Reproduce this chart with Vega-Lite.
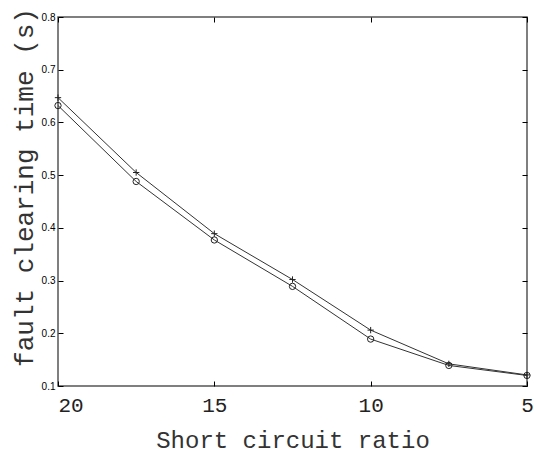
{
  "$schema": "https://vega.github.io/schema/vega-lite/v6.json",
  "autosize": "none",
  "width": 469,
  "height": 369,
  "padding": {"left": 58, "top": 17, "right": 7, "bottom": 70},
  "background": "white",
  "config": {
    "view": {"stroke": "#555", "strokeWidth": 1.5},
    "axis": {"grid": false, "domain": false, "tickColor": "black", "tickWidth": 1}
  },
  "data": {
    "values": [
      {"ratio": 20, "time": 0.647, "series": "plus"},
      {"ratio": 17.5, "time": 0.505, "series": "plus"},
      {"ratio": 15, "time": 0.389, "series": "plus"},
      {"ratio": 12.5, "time": 0.302, "series": "plus"},
      {"ratio": 10, "time": 0.206, "series": "plus"},
      {"ratio": 7.5, "time": 0.142, "series": "plus"},
      {"ratio": 5, "time": 0.121, "series": "plus"},
      {"ratio": 20, "time": 0.632, "series": "circle"},
      {"ratio": 17.5, "time": 0.488, "series": "circle"},
      {"ratio": 15, "time": 0.377, "series": "circle"},
      {"ratio": 12.5, "time": 0.289, "series": "circle"},
      {"ratio": 10, "time": 0.189, "series": "circle"},
      {"ratio": 7.5, "time": 0.139, "series": "circle"},
      {"ratio": 5, "time": 0.12, "series": "circle"}
    ]
  },
  "layer": [
    {
      "mark": {"type": "line", "color": "#333", "strokeWidth": 1},
      "encoding": {
        "x": {
          "field": "ratio", "type": "quantitative",
          "scale": {"domain": [5, 20], "reverse": true, "nice": false, "zero": false},
          "axis": {
            "orient": "bottom", "values": [20, 15, 10, 5], "tickSize": -5,
            "labelPadding": 13, "labelFont": "Liberation Mono", "labelFontSize": 21,
            "labelColor": "#222",
            "labelAlign": {"condition": {"test": "datum.value == 20", "value": "left"}, "value": "center"},
            "title": "Short circuit ratio", "titleFont": "Liberation Mono",
            "titleFontSize": 24, "titleFontWeight": "normal", "titleColor": "#333",
            "titlePadding": 13
          }
        },
        "y": {
          "field": "time", "type": "quantitative",
          "scale": {"domain": [0.1, 0.8], "nice": false, "zero": false},
          "axis": {
            "orient": "left", "values": [0.1, 0.2, 0.3, 0.4, 0.5, 0.6, 0.7, 0.8],
            "format": ".1f", "tickSize": -5, "labelPadding": 8,
            "labelFont": "Liberation Sans", "labelFontSize": 10, "labelColor": "black",
            "title": "fault clearing time (s)", "titleFont": "Liberation Mono",
            "titleFontSize": 26, "titleFontWeight": "normal", "titleColor": "#333",
            "titlePadding": 4, "titleY": 170
          }
        },
        "detail": {"field": "series"}
      }
    },
    {
      "mark": {"type": "point", "filled": false, "strokeWidth": 1, "color": "#222", "opacity": 1},
      "encoding": {
        "x": {
          "field": "ratio", "type": "quantitative",
          "axis": {"orient": "top", "values": [20, 15, 10, 5], "tickSize": -5, "labels": false, "title": null}
        },
        "y": {
          "field": "time", "type": "quantitative",
          "axis": {"orient": "right", "values": [0.1, 0.2, 0.3, 0.4, 0.5, 0.6, 0.7, 0.8], "tickSize": -5, "labels": false, "title": null}
        },
        "shape": {
          "field": "series", "type": "nominal",
          "scale": {"domain": ["plus", "circle"], "range": ["M-1,0L1,0M0,-1L0,1", "circle"]},
          "legend": null
        },
        "size": {"value": 40}
      }
    }
  ],
  "resolve": {"axis": {"x": "independent", "y": "independent"}}
}
